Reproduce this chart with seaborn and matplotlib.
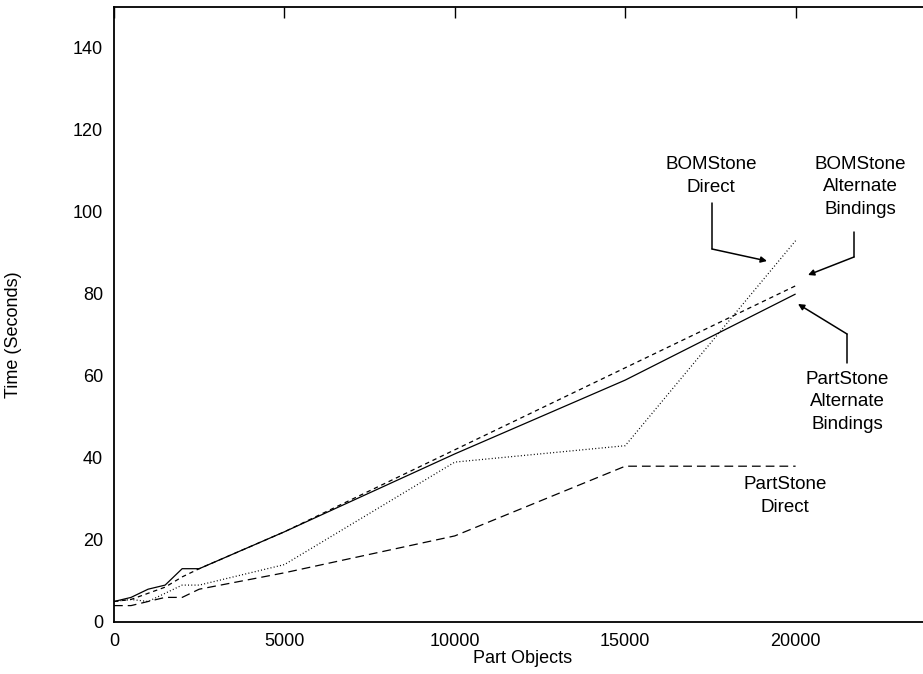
import matplotlib
matplotlib.use("Agg")
import matplotlib.pyplot as plt
import seaborn as sns

# ---- data ----
part_objects = [0, 500, 1000, 1500, 2000, 2500, 5000, 10000, 15000, 20000]
partstone_alt = [5, 6, 8, 9, 13, 13, 22, 41, 59, 80]
bomstone_alt = [5, 5.5, 7, 8.5, 11, 13, 22, 42, 62, 82]
bomstone_direct = [5, 5.5, 5, 7, 9, 9, 14, 39, 43, 93]
partstone_direct = [4, 4, 5, 6, 6, 8, 12, 21, 38, 38]

x_ticks = [0, 5000, 10000, 15000, 20000]
y_ticks = [0, 20, 40, 60, 80, 100, 120, 140]

sns.set_theme(style="white")
plt.rcParams['font.family'] = ['Liberation Sans', 'DejaVu Sans']
plt.rcParams['text.color'] = 'black'
plt.rcParams['axes.labelcolor'] = 'black'

W, H = 923, 674
fig = plt.figure(figsize=(W / 100, H / 100), dpi=100)
# axes: x=0 at px 114, 5000 units = 170.4 px; y=0 at px 622, top at px 7
ax_w = 24000 / 5000 * 170.4
ax = fig.add_axes([114 / W, (H - 622) / H, ax_w / W, 615 / H])

series = [
    (partstone_alt, (0, ())),
    (bomstone_alt, (0, (3.5, 3))),
    (bomstone_direct, (0, (0.8, 1.8))),
    (partstone_direct, (0, (7, 4))),
]
for vals, ls in series:
    sns.lineplot(x=part_objects, y=vals, ax=ax, color="black", linewidth=0.9,
                 linestyle=ls, legend=False)

ax.set_xlim(0, 24000)
ax.set_ylim(0, 150)
ax.set_xticks(x_ticks)
ax.set_yticks(y_ticks)
ax.tick_params(direction="in", length=8, width=1, top=True, right=False,
               labelsize=13, pad=8, colors="black")
for s in ax.spines.values():
    s.set_linewidth(1.3)
    s.set_color("black")

ax.set_xlabel("Part Objects", fontsize=13, labelpad=0)
ax.set_ylabel("Time (Seconds)", fontsize=13)
ax.yaxis.set_label_coords((22 - 114) / ax_w, 0.467)

def px2d(px, py):
    return ((px - 114) / 0.03408, (622 - py) / 4.1)

txt_kw = dict(fontsize=13.5, ha="center", va="center", linespacing=1.4,
              color="black")

# labels
ax.text(*px2d(711, 176), "BOMStone\nDirect", **txt_kw)
ax.text(*px2d(860, 187), "BOMStone\nAlternate\nBindings", **txt_kw)
ax.text(*px2d(847, 402), "PartStone\nAlternate\nBindings", **txt_kw)
ax.text(*px2d(785, 496), "PartStone\nDirect", **txt_kw)

aprops = dict(arrowstyle="-|>", mutation_scale=9, lw=1.1, color="black",
              shrinkA=0, shrinkB=0)

def leader(p_top, p_bend, p_tip):
    a = px2d(*p_top)
    b = px2d(*p_bend)
    t = px2d(*p_tip)
    ax.plot([a[0], b[0]], [a[1], b[1]], color="black", lw=1.1)
    ax.annotate("", xy=t, xytext=b, arrowprops=aprops)

leader((712, 203), (712, 249), (767, 261))
leader((854, 232), (854, 257), (808, 275))
leader((847, 363), (847, 334), (798, 304))

fig.savefig("out.png", dpi=100)
